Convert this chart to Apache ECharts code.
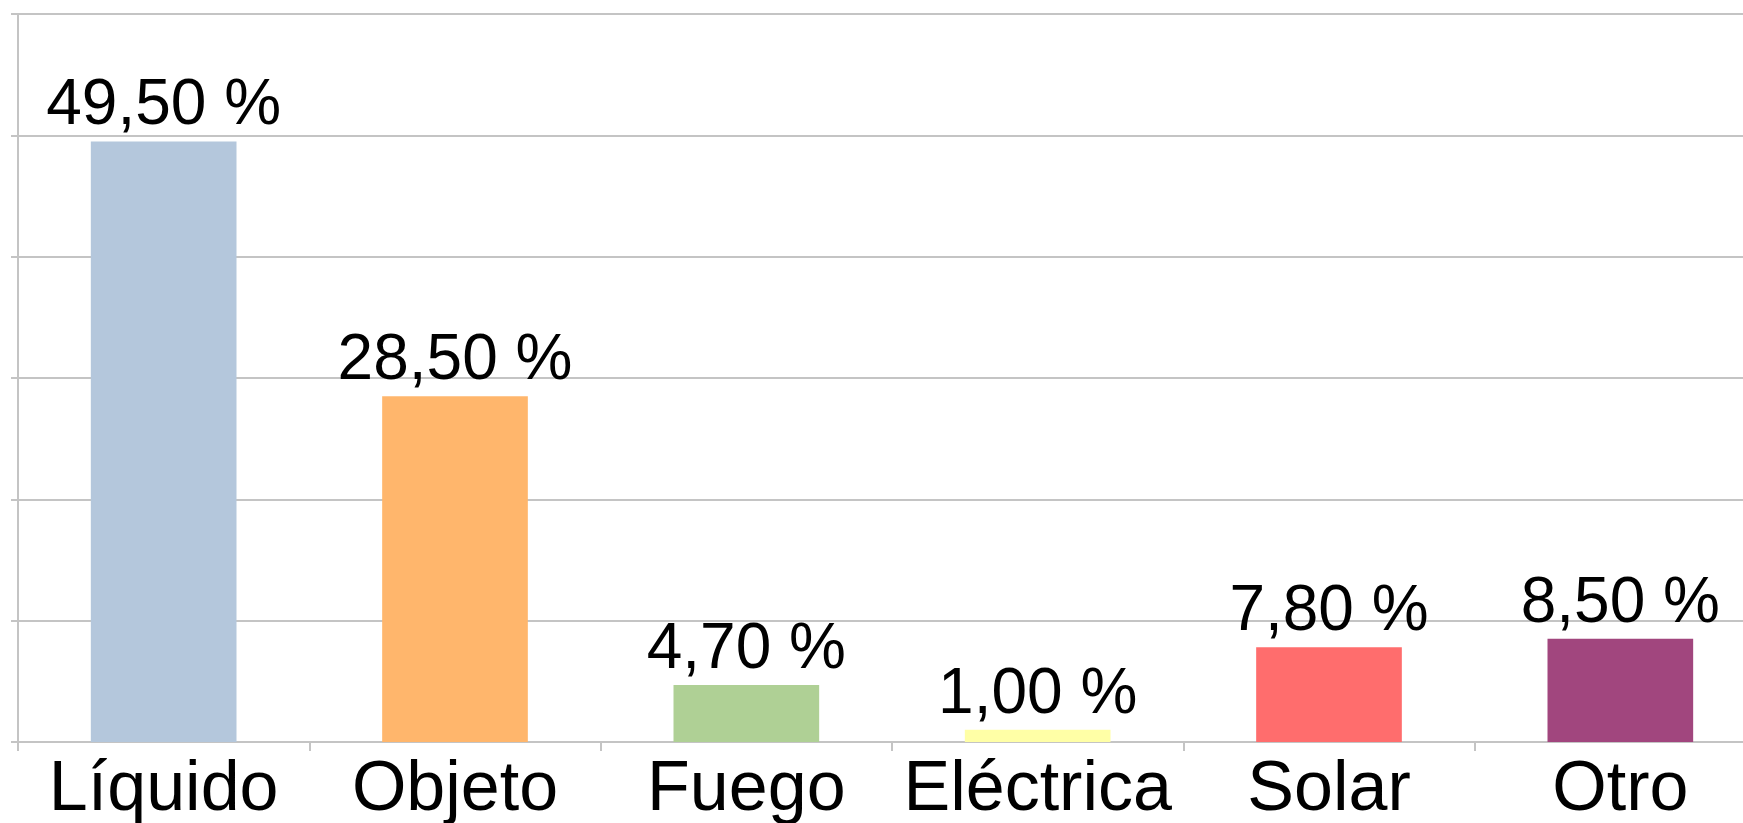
<!DOCTYPE html>
<html>
<head>
<meta charset="utf-8">
<script src="https://cdn.jsdelivr.net/npm/echarts@6/dist/echarts.min.js"></script>
<style>
  html, body { margin: 0; padding: 0; background: #fff; overflow: hidden; }
  /* el grafico original queda cortado a la derecha */
  #chart { width: 1766px; height: 823px; }
</style>
</head>
<body>
<div id="chart"></div>
<script>
// datos
var categorias = ['Líquido', 'Objeto', 'Fuego', 'Eléctrica', 'Solar', 'Otro'];
var porcentajes = [49.5, 28.5, 4.7, 1.0, 7.8, 8.5];
var colores = ['#b4c7dc', '#ffb66c', '#afd095', '#ffffa6', '#ff6d6d', '#a1467e'];

var chart = echarts.init(document.getElementById('chart'));

var option = {
  backgroundColor: '#ffffff',
  animation: false,
  grid: {
    left: 18,
    right: 0,
    top: 14,
    bottom: 81,
    outerBoundsMode: 'none'
  },
  xAxis: {
    type: 'category',
    data: categorias,
    axisLine: { lineStyle: { color: '#c4c4c4', width: 2 } },
    axisTick: { show: true, length: 9, lineStyle: { color: '#c4c4c4', width: 2 } },
    axisLabel: {
      interval: 0,
      color: '#000',
      fontFamily: 'Liberation Sans',
      fontSize: 70,
      margin: 14
    }
  },
  yAxis: {
    type: 'value',
    min: 0,
    max: 60,
    interval: 10,
    axisLine: { show: true, lineStyle: { color: '#c4c4c4', width: 2 } },
    axisTick: { show: true, length: 7, lineStyle: { color: '#c4c4c4', width: 2 } },
    axisLabel: { show: false },
    splitLine: { lineStyle: { color: '#c4c4c4', width: 2 } }
  },
  series: [
    {
      type: 'bar',
      barWidth: '50%',
      data: porcentajes.map(function (v, i) {
        return { value: v, itemStyle: { color: colores[i] } };
      }),
      label: {
        show: true,
        position: 'top',
        distance: 3,
        color: '#000',
        fontFamily: 'Liberation Sans',
        fontSize: 64,
        formatter: function (p) {
          return p.value.toFixed(2).replace('.', ',') + ' %';
        }
      }
    }
  ]
};

chart.setOption(option);
</script>
</body>
</html>
